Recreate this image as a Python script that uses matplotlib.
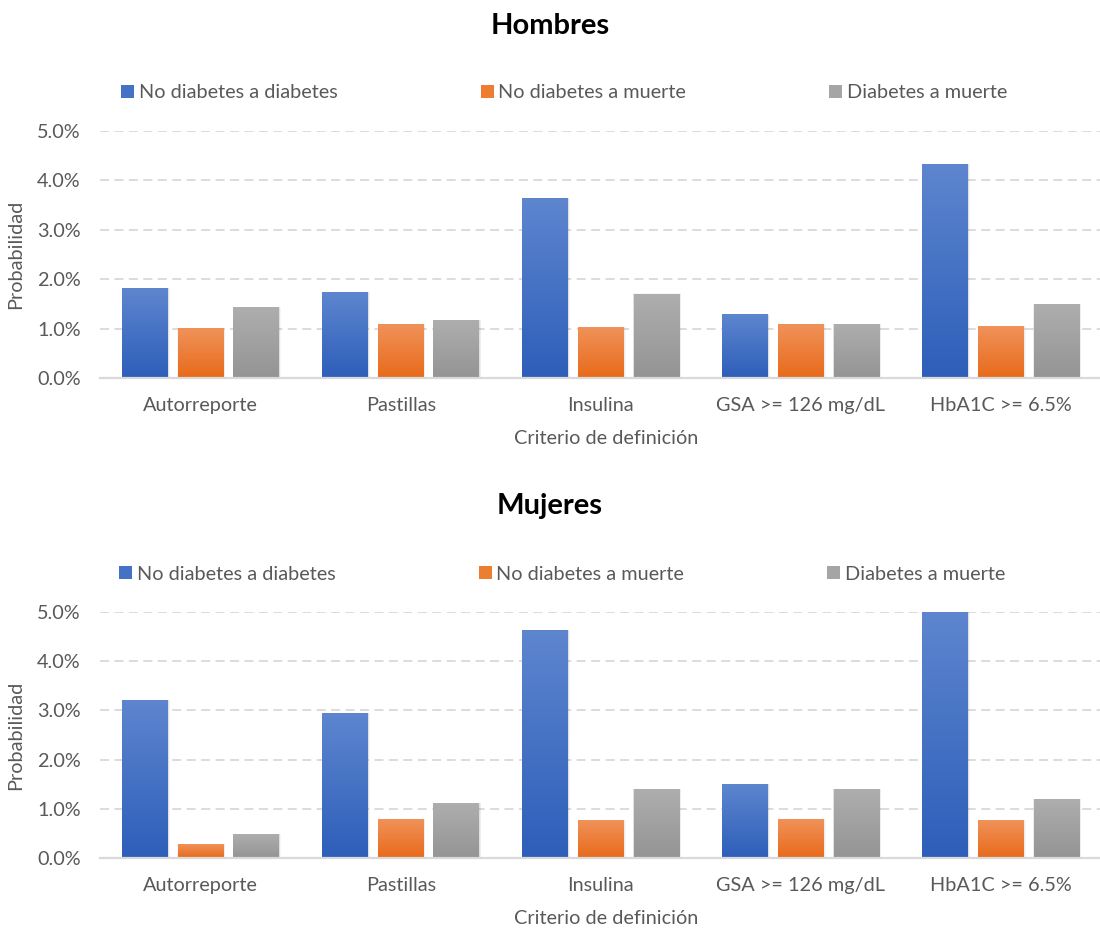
import numpy as np
import matplotlib
matplotlib.use("Agg")
import matplotlib.pyplot as plt
from matplotlib.colors import LinearSegmentedColormap
from matplotlib.patches import Patch
from matplotlib.ticker import PercentFormatter, MultipleLocator

plt.rcParams['font.family'] = ['Lato', 'DejaVu Sans']

# Data (probabilities in %)
categorias = ["Autorreporte", "Pastillas", "Insulina", "GSA >= 126 mg/dL", "HbA1C >= 6.5%"]
series = ["No diabetes a diabetes", "No diabetes a muerte", "Diabetes a muerte"]

hombres_nd_d = [1.82, 1.74, 3.64, 1.28, 4.33]
hombres_nd_m = [1.01, 1.09, 1.03, 1.09, 1.05]
hombres_d_m = [1.42, 1.17, 1.70, 1.09, 1.48]

mujeres_nd_d = [3.20, 2.94, 4.63, 1.50, 5.00]
mujeres_nd_m = [0.28, 0.79, 0.77, 0.79, 0.77]
mujeres_d_m = [0.48, 1.11, 1.40, 1.40, 1.19]

# (top, bottom) gradient colours per series
grad_colors = [("#5E86CF", "#2D5EB9"), ("#F0925A", "#E86A1A"), ("#AEAEAE", "#949494")]
legend_colors = ["#4472C4", "#ED7D31", "#A5A5A5"]

TEXT = "#595959"
GRID = "#D9D9D9"
FS = 14.3

W, H = 1100, 930
fig = plt.figure(figsize=(W / 100, H / 100), dpi=100)


def px_axes(left, right, top, bottom):
    return fig.add_axes([left / W, 1 - bottom / H, (right - left) / W, (bottom - top) / H])


def gradient_bars(ax, x, heights, width, top, bottom, z):
    bars = ax.bar(x, heights, width, color=bottom, linewidth=0, zorder=z)
    cmap = LinearSegmentedColormap.from_list("g", [bottom, top])
    grad = np.linspace(0, 1, 256).reshape(-1, 1)
    for b in bars:
        x0, y0 = b.get_xy()
        w, h = b.get_width(), b.get_height()
        # soft drop shadow
        for k, a in enumerate([0.05, 0.04, 0.03]):
            d = (k + 1) * 0.6
            ax.add_patch(plt.Rectangle((x0 - 0.001 * d, y0), w + 0.006 * d, h + 0.006 * d,
                                       facecolor="#000000", alpha=a, linewidth=0,
                                       zorder=z - 0.5, clip_on=True))
        ax.imshow(grad, extent=[x0, x0 + w, y0, y0 + h], origin="lower", aspect="auto",
                  cmap=cmap, zorder=z + 0.1, interpolation="bilinear")
    return bars


def panel(ax, title, title_y, legend_y, legend_x, values):
    n = len(categorias)
    x = np.arange(n)
    width = 0.229
    step = 0.278
    for i, (vals, (ct, cb)) in enumerate(zip(values, grad_colors)):
        gradient_bars(ax, x + (i - 1) * step, vals, width, ct, cb, 3)

    ax.set_xlim(-0.5035, n - 0.5 + 0.06)
    ax.set_ylim(0, 5.0)
    ax.set_aspect("auto")
    ax.yaxis.set_major_locator(MultipleLocator(1.0))
    ax.yaxis.set_major_formatter(PercentFormatter(xmax=100, decimals=1))
    ax.set_xticks(x)
    ax.set_xticklabels(categorias)
    ax.tick_params(axis="both", length=0, labelsize=FS, colors=TEXT)
    ax.tick_params(axis="y", pad=14)
    ax.tick_params(axis="x", pad=14)
    for s in ["top", "right", "left"]:
        ax.spines[s].set_visible(False)
    ax.spines["bottom"].set_color(GRID)
    ax.spines["bottom"].set_linewidth(1.6)
    ax.spines["bottom"].set_zorder(5)
    ax.yaxis.grid(True, color=GRID, linestyle=(0, (5, 3)), linewidth=1.3, zorder=0)
    ax.set_axisbelow(True)
    ax.set_ylabel("Probabilidad", fontsize=FS, color=TEXT, labelpad=9)
    ax.set_xlabel("Criterio de definición", fontsize=FS, color=TEXT, labelpad=11)

    fig.text(0.5, 1 - title_y / H, title, ha="center", va="center",
             fontsize=21, fontweight="bold", color="#000000")

    handles = [Patch(facecolor=c, edgecolor="none") for c in legend_colors]
    fig.legend(handles, series, loc="center left",
               bbox_to_anchor=(legend_x / W, 1 - legend_y / H),
               ncol=3, frameon=False, fontsize=FS, labelcolor=TEXT,
               handlelength=0.65, handleheight=0.65, handletextpad=0.25,
               columnspacing=7.2, borderpad=0, borderaxespad=0)


ax1 = px_axes(100, 1113, 131, 378)
panel(ax1, "Hombres", 26, 93, 121, [hombres_nd_d, hombres_nd_m, hombres_d_m])

ax2 = px_axes(100, 1113, 612, 858)
panel(ax2, "Mujeres", 506, 574, 119, [mujeres_nd_d, mujeres_nd_m, mujeres_d_m])

fig.savefig("out.png", dpi=100, facecolor="white")
